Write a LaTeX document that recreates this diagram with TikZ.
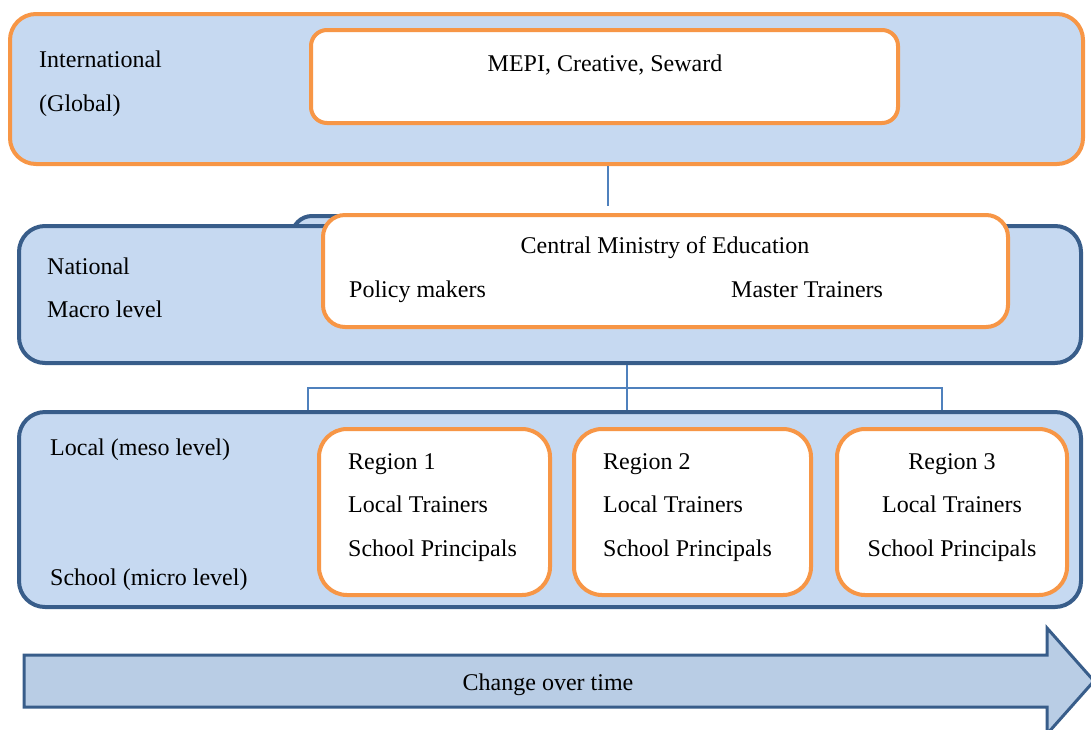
\documentclass[tikz,border=0pt]{standalone}
\usepackage{fontspec}
\setmainfont{Liberation Serif}
\definecolor{lblue}{HTML}{C6D9F1}
\definecolor{orng}{HTML}{F79646}
\definecolor{dblue}{HTML}{385D8A}
\definecolor{cblue}{HTML}{4F81BD}
\definecolor{afill}{HTML}{B9CDE5}
\tikzset{
  levelbox/.style={draw=#1, line width=4pt, fill=lblue, rounded corners=26pt, inner sep=0pt},
  whitebox/.style={draw=orng, line width=4pt, fill=white, rounded corners=#1, inner sep=0pt},
  lbl/.style={anchor=base west, inner sep=0pt, font=\fontsize{24}{28}\selectfont},
  ctr/.style={anchor=base, inner sep=0pt, font=\fontsize{24}{28}\selectfont},
  conn/.style={draw=cblue, line width=1.5pt},
}
\begin{document}
\begin{tikzpicture}[x=1pt,y=-1pt]
\useasboundingbox (0,0) rectangle (1091,729);
% international
\node[levelbox=orng, minimum width=1073pt, minimum height=150pt] (glob) at (546.5,89) {};
\node[whitebox=16pt, minimum width=587pt, minimum height=93pt] (mepi) at (604.5,76.5) {};
\node[ctr] (mepit) at (605,71) {MEPI, Creative, Seward};
\node[lbl] (intl) at (39,67) {International};
\node[lbl] (glb) at (39,111) {(Global)};
% national
\node[levelbox=dblue, rounded corners=20pt, minimum width=408pt, minimum height=112pt] (tab) at (496,272) {};
\node[levelbox=dblue, minimum width=1062pt, minimum height=137pt] (nat) at (550,294.5) {};
\node[whitebox=22pt, minimum width=685pt, minimum height=112pt] (cme) at (665.5,271) {};
\node[ctr] (cmet) at (665,253) {Central Ministry of Education};
\node[lbl] (pm) at (349,297) {Policy makers};
\node[lbl] (mt) at (731,297) {Master Trainers};
\node[lbl] (natl) at (47,274) {National};
\node[lbl] (macro) at (47,317) {Macro level};
% local
\node[levelbox=dblue, minimum width=1062pt, minimum height=195pt] (loc) at (550,509.5) {};
\node[whitebox=28pt, minimum width=231pt, minimum height=166pt] (r1) at (434.5,512) {};
\node[whitebox=28pt, minimum width=237pt, minimum height=166pt] (r2) at (692.5,512) {};
\node[whitebox=28pt, minimum width=230pt, minimum height=166pt] (r3) at (952,512) {};
\node[lbl] (r1a) at (348,469) {Region 1};
\node[lbl] (r1b) at (348,512) {Local Trainers};
\node[lbl] (r1c) at (348,556) {School Principals};
\node[lbl] (r2a) at (603,469) {Region 2};
\node[lbl] (r2b) at (603,512) {Local Trainers};
\node[lbl] (r2c) at (603,556) {School Principals};
\node[ctr] (r3a) at (952,469) {Region 3};
\node[ctr] (r3b) at (952,512) {Local Trainers};
\node[ctr] (r3c) at (952,556) {School Principals};
\node[lbl] (meso) at (50,455) {Local (meso level)};
\node[lbl] (micro) at (50,585) {School (micro level)};
% connectors
\coordinate (c1) at (608,206);
\draw[conn] (glob.south -| c1) -- (c1);
\coordinate (h) at (627,388);
\coordinate (hl) at (308,388);
\coordinate (hr) at (942,388);
\draw[conn] (nat.south -| h) -- (loc.north -| h);
\draw[conn] (loc.north -| hl) -- (hl) -- (hr) -- (loc.north -| hr);
% arrow
\draw[draw=dblue, line width=3pt, fill=afill, line join=miter]
  (24,655) -- (1047,655) -- (1047,628) -- (1094,681) -- (1047,734) -- (1047,707) -- (24,707) -- cycle;
\node[ctr] (chg) at (548,690) {Change over time};
\end{tikzpicture}
\end{document}
